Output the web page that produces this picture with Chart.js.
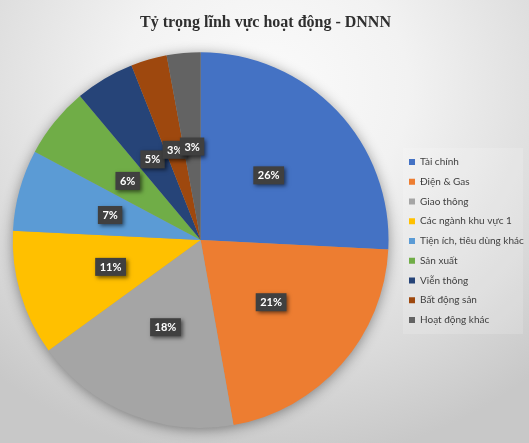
<!DOCTYPE html>
<html>
<head>
<meta charset="utf-8">
<script src="https://cdn.jsdelivr.net/npm/chart.js@4.4.1/dist/chart.umd.min.js"></script>
<style>
  html, body { margin: 0; padding: 0; background: #ffffff; }
  #wrap {
    position: relative; width: 529px; height: 443px; overflow: hidden;
    background: radial-gradient(ellipse 78% 85% at 50% 20%, #fbfbfb 0%, #f2f2f2 35%, #dadada 75%, #c8c8c8 100%);
  }
  canvas { display: block; }
</style>
</head>
<body>
<div id="wrap"><canvas id="c" width="529" height="443"></canvas></div>
<script>
const titleText = 'Tỷ trọng lĩnh vực hoạt động - DNNN';
const categories = ['Tài chính', 'Điện & Gas', 'Giao thông', 'Các ngành khu vực 1', 'Tiện ích, tiêu dùng khác', 'Sản xuất', 'Viễn thông', 'Bất động sản', 'Hoạt động khác'];
const shares = [25.8, 21.4, 17.8, 10.8, 7.0, 6.1, 5.1, 3.1, 2.9];
const sliceColors = ['#4472C4', '#ED7D31', '#A5A5A5', '#FFC000', '#5B9BD5', '#70AD47', '#264478', '#9E480E', '#636363'];

const LEGEND_W = 129.75;
const LEGEND_SHIFT_Y = 27;

const legendFit = {
  id: 'legendFit',
  beforeLayout(chart) {
    const lg = chart.legend;
    if (lg && !lg._fixedW) {
      const orig = lg.fit;
      lg.fit = function () { orig.call(this); this.width = LEGEND_W; };
      lg._fixedW = true;
    }
  },
  afterLayout(chart) {
    const lg = chart.legend;
    if (lg) { lg.top += LEGEND_SHIFT_Y; lg.bottom += LEGEND_SHIFT_Y; }
  },
  beforeDraw(chart) {
    const lg = chart.legend;
    if (!lg || !lg.legendHitBoxes || !lg.legendHitBoxes.length) return;
    const hb = lg.legendHitBoxes;
    const top = Math.min(...hb.map(b => b.top)) - 9;
    const bottom = Math.max(...hb.map(b => b.top + b.height)) + 9;
    const left = hb[0].left - 6;
    const ctx = chart.ctx;
    ctx.save();
    ctx.fillStyle = 'rgba(255,255,255,0.16)';
    ctx.fillRect(left, top, 523 - left, bottom - top);
    ctx.restore();
  }
};

const pieShadow = {
  id: 'pieShadow',
  beforeDatasetsDraw(chart) {
    const arc = chart.getDatasetMeta(0).data[0];
    if (!arc) return;
    const ctx = chart.ctx;
    ctx.save();
    ctx.shadowColor = 'rgba(0,0,0,0.45)';
    ctx.shadowBlur = 14;
    ctx.shadowOffsetY = 2;
    ctx.fillStyle = '#999';
    ctx.beginPath();
    ctx.arc(arc.x, arc.y, arc.outerRadius - 1, 0, Math.PI * 2);
    ctx.fill();
    ctx.restore();
  }
};

const sliceLabels = {
  id: 'sliceLabels',
  afterDatasetsDraw(chart) {
    const ctx = chart.ctx;
    const meta = chart.getDatasetMeta(0);
    const data = chart.data.datasets[0].data;
    const total = data.reduce((a, b) => a + b, 0);
    ctx.save();
    ctx.font = 'bold 11px Lato';
    meta.data.forEach((arc, i) => {
      const txt = Math.round(data[i] / total * 100) + '%';
      const p = arc.tooltipPosition();
      const w = ctx.measureText(txt).width + 9, h = 18;
      ctx.shadowColor = 'rgba(0,0,0,0.55)';
      ctx.shadowBlur = 4;
      ctx.shadowOffsetX = 2;
      ctx.shadowOffsetY = 2;
      ctx.fillStyle = '#404040';
      ctx.fillRect(p.x - w / 2, p.y - h / 2, w, h);
      ctx.shadowColor = 'transparent';
      ctx.fillStyle = '#ffffff';
      ctx.textAlign = 'center';
      ctx.textBaseline = 'middle';
      ctx.fillText(txt, p.x, p.y + 0.5);
    });
    ctx.restore();
  }
};

new Chart(document.getElementById('c'), {
  type: 'pie',
  data: {
    labels: categories,
    datasets: [{
      data: shares,
      backgroundColor: sliceColors,
      borderWidth: 0,
      hoverOffset: 0,
      offset: 0
    }]
  },
  options: {
    responsive: false,
    animation: false,
    layout: { padding: { left: 2, right: 0, top: 0, bottom: 15 } },
    plugins: {
      title: {
        display: true,
        text: titleText,
        color: '#2f2f2f',
        font: { family: 'Liberation Serif', size: 16, weight: 'bold' },
        padding: { top: 13, bottom: 20 }
      },
      legend: {
        position: 'right',
        align: 'center',
        labels: {
          boxWidth: 6,
          boxHeight: 6,
          padding: 9.75,
          color: '#404040',
          font: { family: 'Lato', size: 10 }
        }
      },
      tooltip: { enabled: false }
    }
  },
  plugins: [legendFit, pieShadow, sliceLabels]
});
</script>
</body>
</html>
